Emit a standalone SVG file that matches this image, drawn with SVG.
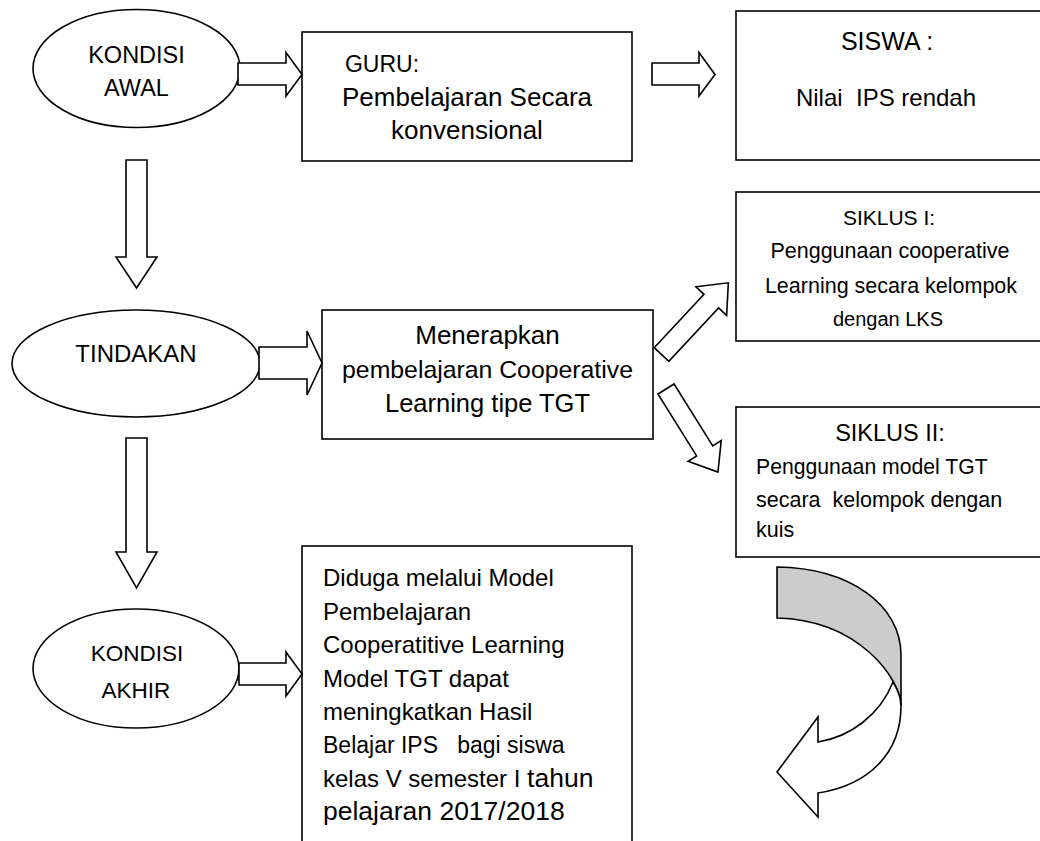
<svg xmlns="http://www.w3.org/2000/svg" width="1040" height="841" viewBox="0 0 1040 841">
<style>
.shape{fill:#fff;stroke:#000;stroke-width:1.6}
.arr{fill:#fff;stroke:#000;stroke-width:1.6;stroke-linejoin:miter}
.gray{fill:#cccccc;stroke:#000;stroke-width:1.6}
text{font-family:"Liberation Sans",Arial,sans-serif;fill:#000}
.c{text-anchor:middle}
</style>
<rect width="1040" height="841" fill="#fff"/>
<g id="kondisi-awal">
<ellipse class="shape" cx="136.5" cy="68.5" rx="103.5" ry="59"/>
<text class="c" x="136.5" y="63" font-size="23.5">KONDISI</text>
<text class="c" x="136.5" y="96" font-size="23.5">AWAL</text>
</g>
<g id="guru">
<rect class="shape" x="302" y="32" width="330" height="129"/>
<text class="c" x="382" y="72" font-size="23">GURU:</text>
<text class="c" x="467" y="106" font-size="26">Pembelajaran Secara</text>
<text class="c" x="467" y="139" font-size="26">konvensional</text>
</g>
<g id="siswa">
<rect class="shape" x="736" y="11" width="306" height="149"/>
<text class="c" x="887" y="50" font-size="25">SISWA :</text>
<text class="c" x="886" y="106" font-size="24" xml:space="preserve">Nilai  IPS rendah</text>
</g>
<g id="tindakan">
<ellipse class="shape" cx="136" cy="363.5" rx="124" ry="53.5"/>
<text class="c" x="136" y="362" font-size="24">TINDAKAN</text>
</g>
<g id="menerapkan">
<rect class="shape" x="322" y="310" width="331" height="129"/>
<text class="c" x="487.5" y="344" font-size="26">Menerapkan</text>
<text class="c" x="487.5" y="378" font-size="24.8">pembelajaran Cooperative</text>
<text class="c" x="487.5" y="412" font-size="25.5">Learning tipe TGT</text>
</g>
<g id="siklus-1">
<rect class="shape" x="736" y="192" width="306" height="149"/>
<text class="c" x="889" y="225" font-size="21">SIKLUS I:</text>
<text class="c" x="890" y="258" font-size="21.5">Penggunaan cooperative</text>
<text class="c" x="891" y="293" font-size="21.5">Learning secara kelompok</text>
<text class="c" x="888" y="326" font-size="20">dengan LKS</text>
</g>
<g id="siklus-2">
<rect class="shape" x="736" y="407" width="306" height="150"/>
<text class="c" x="890" y="441" font-size="23.5">SIKLUS II:</text>
<text x="756" y="474" font-size="21.2">Penggunaan model TGT</text>
<text x="756" y="507" font-size="21.5" xml:space="preserve">secara  kelompok dengan</text>
<text x="756" y="537" font-size="21.5">kuis</text>
</g>
<g id="kondisi-akhir">
<ellipse class="shape" cx="136" cy="668.5" rx="103" ry="59.5"/>
<text class="c" x="137" y="661" font-size="22.5">KONDISI</text>
<text class="c" x="136" y="698" font-size="22.5">AKHIR</text>
</g>
<g id="hasil">
<rect class="shape" x="302" y="546" width="330" height="305"/>
<text x="323" y="586" font-size="24">Diduga melalui Model</text>
<text x="323" y="619.5" font-size="24">Pembelajaran</text>
<text x="323" y="653" font-size="24">Cooperatitive Learning</text>
<text x="323" y="686.5" font-size="24">Model TGT dapat</text>
<text x="323" y="720" font-size="24">meningkatkan Hasil</text>
<text x="323" y="753" font-size="23" xml:space="preserve">Belajar IPS   bagi siswa</text>
<text x="323" y="786.5" font-size="24">kelas V semester I <tspan font-size="26.5">tahun</tspan></text>
<text x="323" y="820" font-size="26.5">pelajaran 2017/2018</text>
</g>
<g id="connectors">
<polygon class="arr" points="238,63 286,63 286,52.5 302,74.5 286,96 286,85 238,85"/>
<polygon class="arr" points="652,63 699,63 699,52.5 715,74.5 699,96 699,85 652,85"/>
<polygon class="arr" points="126,160 147,160 147,257 157,257 136.5,288 116,257 126,257"/>
<polygon class="arr" points="259,347 307,347 307,331 322,363 307,395 307,379 259,379"/>
<polygon class="arr" transform="translate(661.5,354.5) rotate(-47)" points="0,-10 73,-10 73,-21 98,0 73,21 73,10 0,10"/>
<polygon class="arr" transform="translate(666,389) rotate(58)" points="0,-9.5 73,-9.5 73,-19.5 98,0 73,19.5 73,9.5 0,9.5"/>
<polygon class="arr" points="126,438 147,438 147,552 157,552 136.5,588 116,552 126,552"/>
<polygon class="arr" points="239,663 286,663 286,652 302,674 286,696 286,685 239,685"/>
<g id="curved-arrow">
<path class="gray" d="M777,567 C850,568 901,605 901,655 L901,706 C901,680 860,620 777,618 Z"/>
<path class="arr" d="M893,682 C880,715 850,737 818,742 L818,717 L777,772 L818,817 L818,793 C870,785 901,752 901,706 C901,698 898,690 893,682 Z"/>
</g>
</g>
</svg>
